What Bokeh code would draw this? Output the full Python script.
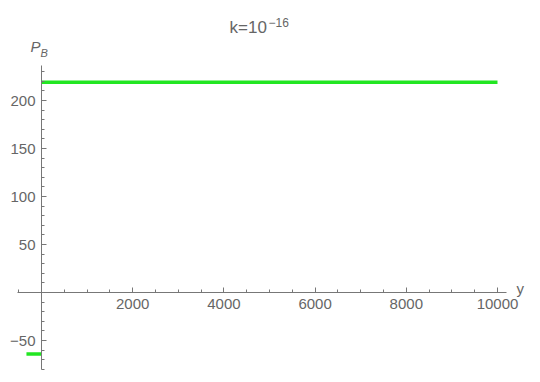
from bokeh.plotting import figure
from bokeh.models import LinearAxis, FixedTicker, Label, Range1d
from bokeh.embed import file_html
from bokeh.resources import INLINE

# data
x_pos = [0, 10000]
pb_pos = [219, 219]
x_neg = [-330, 0]
pb_neg = [-64, -64]
x_major = [2000, 4000, 6000, 8000, 10000]
x_minor = list(range(-500, 10001, 500))
y_major = [-50, 50, 100, 150, 200]
y_minor = list(range(-80, 231, 10))

GREEN = "#22e622"
GRAY = "#666666"
AX = "#777777"
FONT = "Liberation Sans"

p = figure(width=540, height=382, output_backend="svg", toolbar_location=None,
           x_axis_type=None, y_axis_type=None,
           x_range=Range1d(-899, 10943), y_range=Range1d(-93.75, 304.2),
           min_border_left=0, min_border_right=0, min_border_top=0, min_border_bottom=0)
p.outline_line_color = None
p.grid.visible = False
p.background_fill_color = "white"

xa = LinearAxis(fixed_location=0, bounds=(-526, 10197),
                ticker=FixedTicker(ticks=x_major, minor_ticks=x_minor))
ya = LinearAxis(fixed_location=0, bounds=(-80, 236.5),
                ticker=FixedTicker(ticks=y_major, minor_ticks=y_minor))
for a in (xa, ya):
    a.axis_line_color = AX
    a.major_tick_line_color = AX
    a.minor_tick_line_color = AX
    a.major_tick_in = 5
    a.major_tick_out = 0
    a.minor_tick_in = 3
    a.minor_tick_out = 0
    a.major_label_text_font = FONT
    a.major_label_text_font_size = "15px"
    a.major_label_text_color = GRAY
    a.major_label_standoff = 6
p.add_layout(xa, "below")
p.add_layout(ya, "left")

p.line(x_pos, pb_pos, line_color=GREEN, line_width=3.5)
p.line(x_neg, pb_neg, line_color=GREEN, line_width=3.5)

def lab(x, y, t, size, style="normal"):
    p.add_layout(Label(x=x, y=y, text=t, text_font=FONT, text_font_size=size,
                       text_color=GRAY, text_baseline="middle", text_align="left",
                       text_font_style=style))

lab(4123, 276, "k=10", "17px")
lab(4978, 281, "\u221216", "12px")
lab(-241, 256, "P", "15px", "italic")
lab(-22, 250, "B", "11px", "italic")
lab(10417, 4, "y", "15px")

open("out.html", "w").write(file_html(p, INLINE))
